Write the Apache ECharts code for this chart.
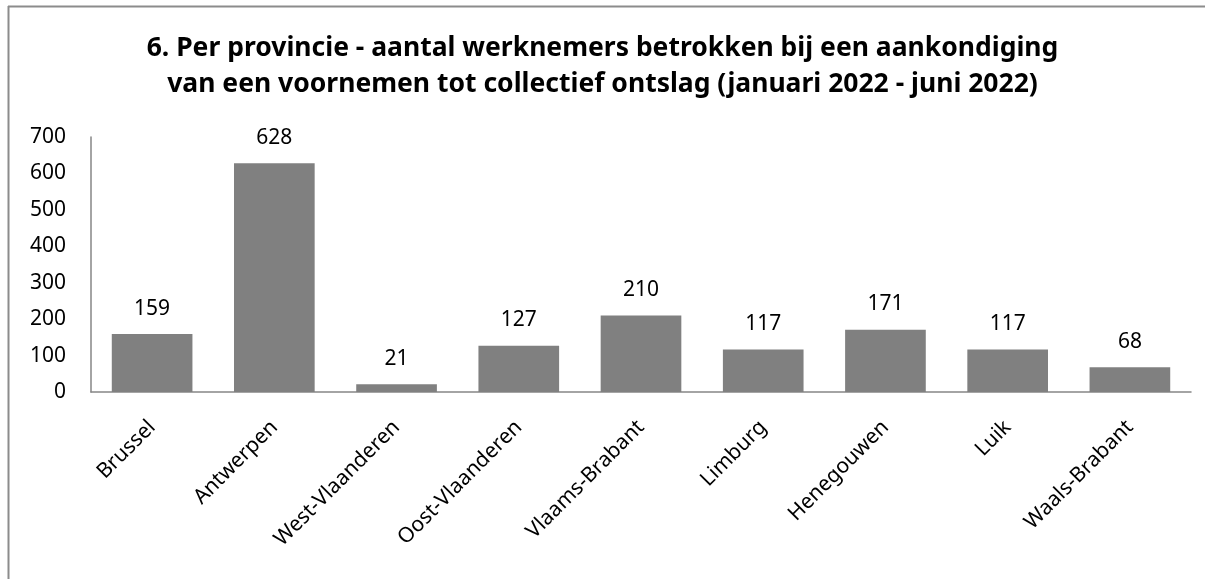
<!DOCTYPE html>
<html>
<head>
<meta charset="utf-8">
<script src="https://cdn.jsdelivr.net/npm/echarts@6/dist/echarts.min.js"></script>
<style>
  html, body { margin: 0; padding: 0; background: #fff; }
  #chart { width: 1205px; height: 579px; }
</style>
</head>
<body>
<div id="chart"></div>
<script>
// provincies en aantal werknemers
var provincies = ['Brussel', 'Antwerpen', 'West-Vlaanderen', 'Oost-Vlaanderen', 'Vlaams-Brabant',
    'Limburg', 'Henegouwen', 'Luik', 'Waals-Brabant'];
var werknemers = [159, 628, 21, 127, 210, 117, 171, 117, 68];
var titel = '6. Per provincie - aantal werknemers betrokken bij een aankondiging\nvan een voornemen tot collectief ontslag (januari 2022 - juni 2022)';

var font = '"Noto Sans", "Open Sans", sans-serif';
var chart = echarts.init(document.getElementById('chart'));

var option = {
    backgroundColor: '#fff',
    animation: false,
    title: {
        text: titel,
        left: 'center',
        top: 25,
        textStyle: {
            fontFamily: font,
            fontSize: 26.5,
            fontWeight: 'bold',
            color: '#000',
            lineHeight: 36
        }
    },
    graphic: [
        // rand links en boven
        { type: 'line', shape: { x1: 8.5, y1: 6, x2: 8.5, y2: 579 }, style: { stroke: '#8c8c8c', lineWidth: 2 } },
        { type: 'line', shape: { x1: 8, y1: 6.5, x2: 1205, y2: 6.5 }, style: { stroke: '#8c8c8c', lineWidth: 2 } }
    ],
    grid: {
        left: 91,
        right: 14,
        top: 137,
        bottom: 187
    },
    xAxis: {
        type: 'category',
        data: provincies,
        axisLine: { lineStyle: { color: '#868686', width: 1.5 } },
        axisTick: { show: false },
        axisLabel: {
            interval: 0,
            rotate: 45,
            margin: 32,
            padding: [0, 0, 0, 0],
            fontFamily: font,
            fontSize: 21,
            color: '#000'
        }
    },
    yAxis: {
        type: 'value',
        min: 0,
        max: 700,
        interval: 100,
        axisLine: { show: true, lineStyle: { color: '#868686', width: 1.5 } },
        axisTick: { show: false },
        splitLine: { show: false },
        axisLabel: {
            margin: 25,
            fontFamily: font,
            fontSize: 21,
            color: '#000'
        }
    },
    series: [
        {
            type: 'bar',
            data: werknemers,
            barCategoryGap: '34%',
            itemStyle: { color: '#808080' },
            label: {
                show: true,
                position: 'top',
                distance: 15,
                fontFamily: font,
                fontSize: 21,
                color: '#000'
            }
        }
    ]
};
chart.setOption(option);
</script>
</body>
</html>
